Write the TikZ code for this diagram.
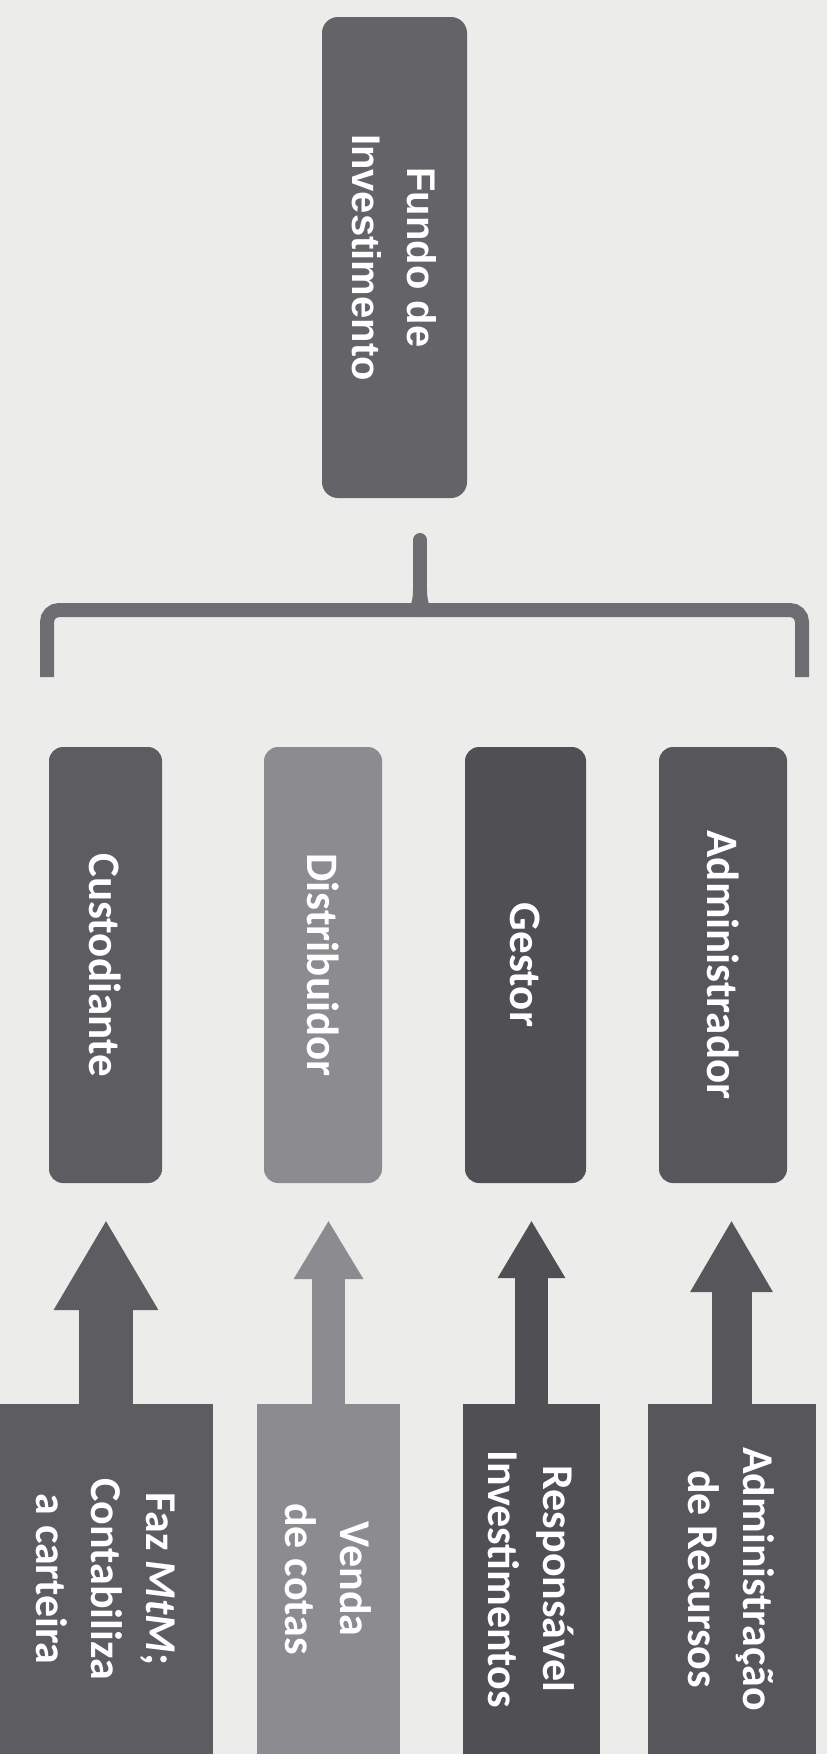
\documentclass[tikz,border=0pt]{standalone}
\usepackage{fontspec}
\setmainfont{Carlito}
\newfontfamily\fundofont{Liberation Sans}
\usepackage{xcolor}
\definecolor{cBack}{HTML}{ECECEA}
\definecolor{cFundo}{HTML}{646468}
\definecolor{cCust}{HTML}{5C5C61}
\definecolor{cDist}{HTML}{8C8C90}
\definecolor{cGest}{HTML}{4F4F54}
\definecolor{cAdm}{HTML}{56565B}
\definecolor{cBrace}{HTML}{6E6E72}
\usetikzlibrary{positioning,arrows.meta}
\tikzset{
  node-fundo/.style={rotate=-90,fill=cFundo,rounded corners=16pt,inner sep=0pt,
    minimum width=481pt,minimum height=145pt,text=white,align=center,
    font=\fontsize{40}{55}\selectfont\fundofont\bfseries},
  node-role/.style={rotate=-90,rounded corners=14pt,inner sep=0pt,
    minimum width=436pt,text=white,align=center,
    font=\fontsize{45}{55}\selectfont\bfseries},
  node-task/.style={rotate=-90,inner sep=0pt,minimum width=350pt,
    text=white,align=center,font=\fontsize{44}{55}\selectfont\bfseries},
  % seta larga: largura da haste, largura da ponta, comprimento da ponta
  arrow-block/.style n args={3}{line width=#1,
    -{Triangle[length=#3,width=#2,line width=0pt]},shorten >=38pt},
  brace-line/.style={draw=cBrace,line width=14pt,rounded corners=12pt},
}

\begin{document}
\begin{tikzpicture}[x=1pt,y=-1pt]
  \fill[cBack] (0,0) rectangle (827,1754);
  \useasboundingbox (0,0) rectangle (827,1754);

  \node[node-fundo] (fundo) at (394.5,257.5) {Fundo de\\Investimento};

  % chave
  \draw[brace-line] (47,677) -- (47,610) -- (404,610)
    .. controls (416,610) and (420,604) .. (420,590);
  \draw[brace-line] (802,677) -- (802,610) -- (436,610)
    .. controls (424,610) and (420,604) .. (420,590);
  \draw[brace-line,line cap=round] (420,592) -- (420,540);

  \node[node-role,fill=cCust,minimum height=113pt] (cust) at (105.5,965) {Custodiante};
  \node[node-role,fill=cDist,minimum height=118pt] (dist) at (323,965) {Distribuidor};
  \node[node-role,fill=cGest,minimum height=121pt] (gest) at (525.5,965) {Gestor};
  \node[node-role,fill=cAdm,minimum height=128pt] (adm) at (723,965) {Administrador};

  \node[node-task,fill=cCust,minimum height=213pt] (mtm) at (106,1579) {Faz \textit{MtM};\\Contabiliza\\a carteira};
  \node[node-task,fill=cDist,minimum height=143pt] (venda) at (328.5,1579) {Venda\\de cotas};
  \node[node-task,fill=cGest,minimum height=137pt] (resp) at (531.5,1579) {Responsável\\Investimentos};
  \node[node-task,fill=cAdm,minimum height=168pt] (recursos) at (731.5,1579) {Administração\\de Recursos};

  \draw[arrow-block={54pt}{105pt}{89pt},draw=cCust] (mtm.west) -- (mtm.west |- cust.east);
  \draw[arrow-block={33pt}{70pt}{58pt},draw=cDist] (venda.west) -- (venda.west |- dist.east);
  \draw[arrow-block={33pt}{68pt}{57pt},draw=cGest] (resp.west) -- (resp.west |- gest.east);
  \draw[arrow-block={40pt}{83pt}{71pt},draw=cAdm] (recursos.west) -- (recursos.west |- adm.east);
\end{tikzpicture}
\end{document}
